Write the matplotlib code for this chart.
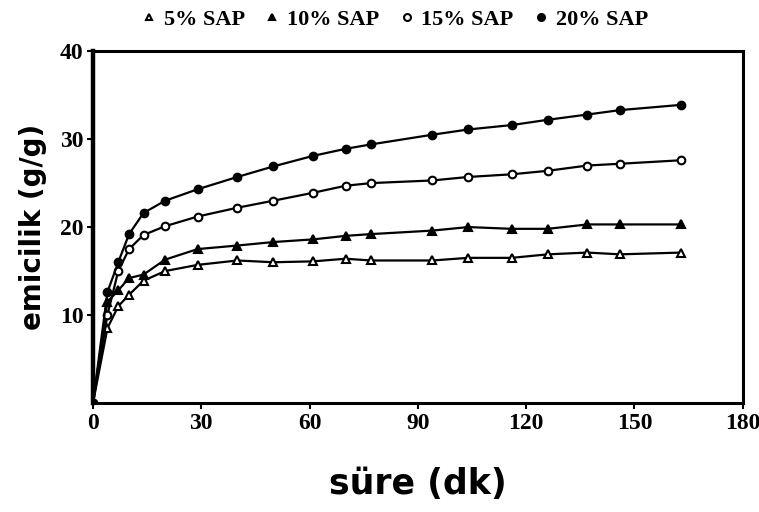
import matplotlib
matplotlib.use('Agg')
from matplotlib import pyplot as plt
from matplotlib.lines import Line2D

# absorption (g/g) vs time (min) for four SAP loadings
sure = [0, 4, 7, 10, 14, 20, 29, 40, 50, 61, 70, 77, 94, 104, 116, 126, 137, 146, 163]
sap5 = [0, 8.5, 11.0, 12.3, 13.9, 15.0, 15.7, 16.2, 16.0, 16.1, 16.4, 16.2, 16.2, 16.5, 16.5, 16.9, 17.1, 16.9, 17.1]
sap10 = [0, 11.5, 12.8, 14.2, 14.6, 16.3, 17.5, 17.9, 18.3, 18.6, 19.0, 19.2, 19.6, 20.0, 19.8, 19.8, 20.3, 20.3, 20.3]
sap15 = [0, 10.0, 15.0, 17.5, 19.1, 20.1, 21.2, 22.2, 23.0, 23.9, 24.7, 25.0, 25.3, 25.7, 26.0, 26.4, 27.0, 27.2, 27.6]
sap20 = [0, 12.6, 16.0, 19.2, 21.6, 23.0, 24.3, 25.7, 26.9, 28.1, 28.9, 29.4, 30.5, 31.1, 31.6, 32.2, 32.8, 33.3, 33.9]
etiketler = ['5% SAP', '10% SAP', '15% SAP', '20% SAP']

fig = plt.figure(figsize=(7.59, 5.12), dpi=100)
ax = fig.add_axes([0.1225, 0.213, 0.856, 0.687])

stiller = [('^', 'white'), ('^', 'black'), ('o', 'white'), ('o', 'black')]
for y, (m, fc) in zip([sap5, sap10, sap15, sap20], stiller):
	ax.plot(sure, y, color='black', lw=1.6, marker=m, ms=5.5,
		mfc=fc, mec='black', mew=1.5)

ax.set_xlim(0, 180)
ax.set_ylim(0, 40)
ax.set_xticks([0, 30, 60, 90, 120, 150, 180])
ax.set_yticks([10, 20, 30, 40])
for s in ax.spines.values():
	s.set_linewidth(2.2)
ax.spines['left'].set_linewidth(3.2)
ax.tick_params(direction='out', length=4, width=1.5, pad=3)
for lab in ax.get_xticklabels() + ax.get_yticklabels():
	lab.set_fontfamily('Liberation Serif')
	lab.set_fontweight('bold')
	lab.set_fontsize(17)

ax.set_xlabel('süre (dk)', fontsize=25, fontweight='bold', family='DejaVu Sans', labelpad=24)
ax.set_ylabel('emicilik (g/g)', fontsize=20, fontweight='bold', family='DejaVu Sans', labelpad=9)

tutamaclar = [Line2D([], [], ls='none', marker=m, ms=5, mfc=fc, mec='black', mew=1.5)
	for m, fc in stiller]
fig.legend(tutamaclar, etiketler, loc='center', bbox_to_anchor=(0.52, 0.962), ncol=4,
	frameon=False, handlelength=0.7, handletextpad=0.3, columnspacing=0.9,
	prop={'family': 'Liberation Serif', 'weight': 'bold', 'size': 16})

plt.savefig('out.png', dpi=100)
plt.close()
